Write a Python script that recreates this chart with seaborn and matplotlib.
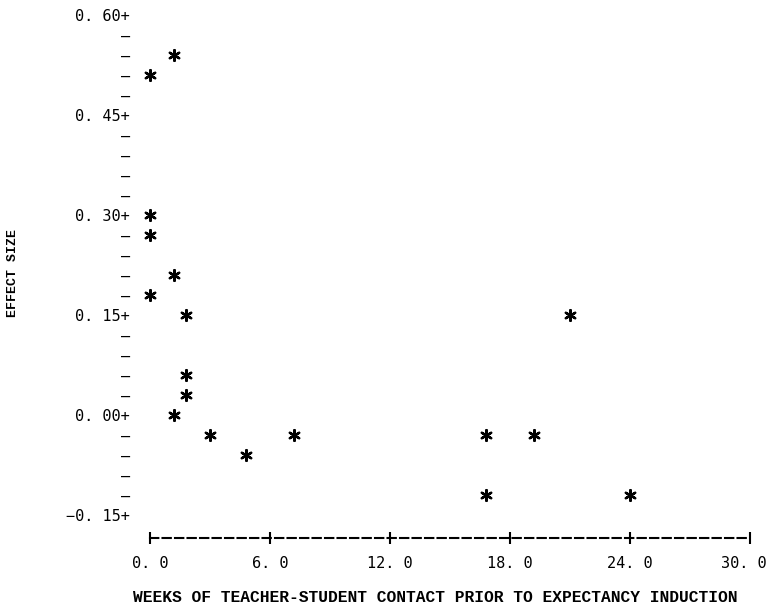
import matplotlib
matplotlib.use("Agg")
import matplotlib.pyplot as plt
import matplotlib.transforms as mtransforms
import seaborn as sns
import pandas as pd
from matplotlib.ticker import FixedLocator, FixedFormatter

# ---- data ----
weeks = [1.2, 0.0, 0.0, 0.0, 1.2, 0.0, 1.8, 21.0, 1.8, 1.8, 1.2, 3.0, 4.8, 7.2, 16.8, 19.2, 16.8, 24.0]
effect = [0.54, 0.51, 0.30, 0.27, 0.21, 0.18, 0.15, 0.15, 0.06, 0.03, 0.00, -0.03, -0.06, -0.03, -0.03, -0.03, -0.12, -0.12]

x_ticks = [0, 6, 12, 18, 24, 30]
x_tick_labels = ["0. 0", "6. 0", "12. 0", "18. 0", "24. 0", "30. 0"]
y_ticks = [0.60, 0.45, 0.30, 0.15, 0.00, -0.15]
y_tick_labels = ["0. 60+", "0. 45+", "0. 30+", "0. 15+", "0. 00+", "\u22120. 15+"]
y_minor = [0.57, 0.54, 0.51, 0.48, 0.42, 0.39, 0.36, 0.33, 0.27, 0.24, 0.21, 0.18,
           0.12, 0.09, 0.06, 0.03, -0.03, -0.06, -0.09, -0.12]

x_label = "WEEKS OF TEACHER-STUDENT CONTACT PRIOR TO EXPECTANCY INDUCTION"
y_label = "EFFECT SIZE"

df = pd.DataFrame({"weeks": weeks, "effect": effect})

sns.set_theme(style="white")
plt.rcParams["font.family"] = ["DejaVu Sans Mono", "DejaVu Sans"]

fig = plt.figure(figsize=(7.69, 6.11), dpi=100)
ax = fig.add_axes([100 / 769, (611 - 560) / 611, 660 / 769, 560 / 611])
ax.set_facecolor("white")

sns.scatterplot(data=df, x="weeks", y="effect", marker=(6, 2, 0), s=60,
                color="black", linewidth=1.7, ax=ax, legend=False)

ax.set_xlim(-2.5, 30.5)
ax.set_ylim(-0.2175, 0.6225)

for side in ["top", "right"]:
    ax.spines[side].set_visible(False)

# y axis drawn as printer characters
ax.spines["left"].set_position(("data", -1.0))
ax.spines["left"].set_visible(False)
ax.set_yticks(y_ticks)
ax.set_yticklabels(y_tick_labels)
ax.yaxis.set_minor_locator(FixedLocator(y_minor))
ax.yaxis.set_minor_formatter(FixedFormatter(["\u2013"] * len(y_minor)))
ax.tick_params(axis="y", which="both", length=0, pad=0, labelsize=11, labelcolor="black")

# x axis: dashed line with '+' ticks
ax.spines["bottom"].set_position(("data", -0.185))
ax.spines["bottom"].set_bounds(0, 30)
ax.spines["bottom"].set_linestyle((0, (4, 2)))
ax.spines["bottom"].set_linewidth(1.5)
ax.spines["bottom"].set_color("black")
ax.set_xticks(x_ticks)
ax.set_xticklabels(x_tick_labels)
ax.tick_params(axis="x", which="major", direction="inout", length=9, width=1.5,
               color="black", pad=8, labelsize=11, labelcolor="black", bottom=True)

# keep the last x label inside the figure, as in the reference
last = ax.get_xticklabels()[-1]
last.set_transform(last.get_transform() +
                   mtransforms.ScaledTranslation(-6 / 100, 0, fig.dpi_scale_trans))

ax.set_xlabel("")
ax.set_ylabel("")

fig.text(435 / 769, 1 - 597 / 611, x_label, ha="center", va="center",
         fontsize=11.7, fontweight="bold", family="Liberation Mono", color="black")
fig.text(13 / 769, 1 - 273 / 611, y_label, ha="center", va="center", rotation=90,
         fontsize=9.5, fontweight="bold", family="Liberation Mono", color="black")

fig.savefig("out.png", dpi=100)
